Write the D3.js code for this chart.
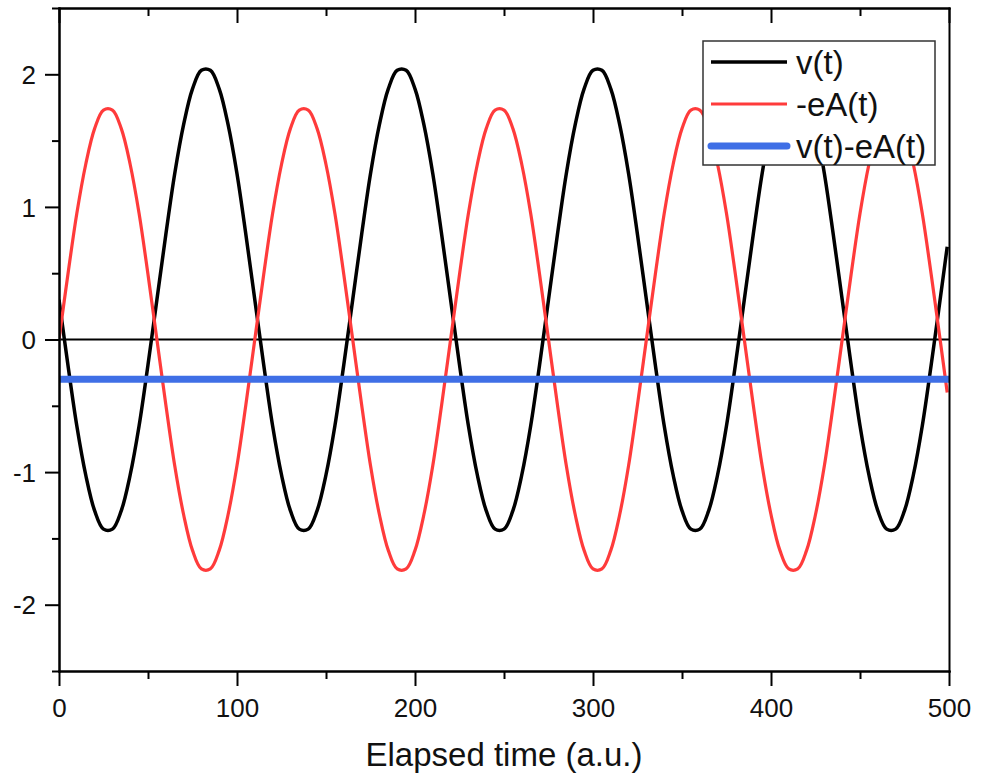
<!DOCTYPE html>
<html>
<head>
<meta charset="utf-8">
<script src="https://cdn.jsdelivr.net/npm/d3@7"></script>
<style>
  html, body { margin: 0; padding: 0; background: #fff; }
  svg { display: block; font-family: "Liberation Sans", Arial, sans-serif; }
</style>
</head>
<body>
<svg id="chart" width="983" height="775"></svg>
<script>
// ---- data ----
const timeValues = [0,5,10,15,20,25,30,35,40,45,50,55,60,65,70,75,80,85,90,95,
  100,105,110,115,120,125,130,135,140,145,150,155,160,165,170,175,180,185,190,195,
  200,205,210,215,220,225,230,235,240,245,250,255,260,265,270,275,280,285,290,295,
  300,305,310,315,320,325,330,335,340,345,350,355,360,365,370,375,380,385,390,395,
  400,405,410,415,420,425,430,435,440,445,450,455,460,465,470,475,480,485,490,495,499];

const vValues = [
  0.30,-0.19,-0.65,-1.02,-1.29,-1.43,-1.43,-1.29,-1.02,-0.65,-0.19,0.30,0.79,1.25,1.62,1.89,2.03,2.03,1.89,1.62,1.25,0.79,
  0.30,-0.19,-0.65,-1.02,-1.29,-1.43,-1.43,-1.29,-1.02,-0.65,-0.19,0.30,0.79,1.25,1.62,1.89,2.03,2.03,1.89,1.62,1.25,0.79,
  0.30,-0.19,-0.65,-1.02,-1.29,-1.43,-1.43,-1.29,-1.02,-0.65,-0.19,0.30,0.79,1.25,1.62,1.89,2.03,2.03,1.89,1.62,1.25,0.79,
  0.30,-0.19,-0.65,-1.02,-1.29,-1.43,-1.43,-1.29,-1.02,-0.65,-0.19,0.30,0.79,1.25,1.62,1.89,2.03,2.03,1.89,1.62,1.25,0.79,
  0.30,-0.19,-0.65,-1.02,-1.29,-1.43,-1.43,-1.29,-1.02,-0.65,-0.19,0.30,0.70];

const eAValues = [
  0,0.49,0.95,1.32,1.59,1.73,1.73,1.59,1.32,0.95,0.49,0,-0.49,-0.95,-1.32,-1.59,-1.73,-1.73,-1.59,-1.32,-0.95,-0.49,
  0,0.49,0.95,1.32,1.59,1.73,1.73,1.59,1.32,0.95,0.49,0,-0.49,-0.95,-1.32,-1.59,-1.73,-1.73,-1.59,-1.32,-0.95,-0.49,
  0,0.49,0.95,1.32,1.59,1.73,1.73,1.59,1.32,0.95,0.49,0,-0.49,-0.95,-1.32,-1.59,-1.73,-1.73,-1.59,-1.32,-0.95,-0.49,
  0,0.49,0.95,1.32,1.59,1.73,1.73,1.59,1.32,0.95,0.49,0,-0.49,-0.95,-1.32,-1.59,-1.73,-1.73,-1.59,-1.32,-0.95,-0.49,
  0,0.49,0.95,1.32,1.59,1.73,1.73,1.59,1.32,0.95,0.49,0,-0.40];

const sumTime = [0, 500];
const sumValues = [-0.3, -0.3];

const xTicksMajor = [0, 100, 200, 300, 400, 500];
const xTicksMinor = [50, 150, 250, 350, 450];
const yTicksMajor = [-2, -1, 0, 1, 2];
const yTicksMinor = [-2.5, -1.5, -0.5, 0.5, 1.5, 2.5];
const seriesNames = ["v(t)", "-eA(t)", "v(t)-eA(t)"];
const xTitle = "Elapsed time (a.u.)";

// ---- layout ----
const svg = d3.select("#chart");
const L = 59, R = 949, T = 8, B = 671;
const x = d3.scaleLinear().domain([0, 500]).range([L, R]);
const y = d3.scaleLinear().domain([-2.5, 2.5]).range([B, T]);

const colors = ["#000000", "#ff3b3b", "#3f6fe6"];
const widths = [3.5, 3.2, 7];

svg.append("clipPath").attr("id", "clip")
  .append("rect").attr("x", L).attr("y", T).attr("width", R - L).attr("height", B - T);

const plot = svg.append("g").attr("clip-path", "url(#clip)");

// zero reference line
plot.append("line")
  .attr("x1", x(0)).attr("x2", x(500))
  .attr("y1", y(0)).attr("y2", y(0))
  .attr("stroke", "#000").attr("stroke-width", 2);

const line = d3.line().x(d => x(d[0])).y(d => y(d[1])).curve(d3.curveCatmullRom.alpha(0.5));
const series = [
  timeValues.map((t, i) => [t, vValues[i]]),
  timeValues.map((t, i) => [t, eAValues[i]]),
  sumTime.map((t, i) => [t, sumValues[i]])
];
series.forEach((s, i) => {
  plot.append("path").datum(s)
    .attr("d", line)
    .attr("fill", "none")
    .attr("stroke", colors[i])
    .attr("stroke-width", widths[i])
    .attr("stroke-linejoin", "round");
});

// ---- axes ----
const fmt = d => String(d);
const axisStroke = 2;

// bottom
const gB = svg.append("g").attr("transform", `translate(0,${B})`)
  .call(d3.axisBottom(x).tickValues(xTicksMajor).tickFormat(fmt).tickSize(15).tickSizeOuter(0));
gB.append("g").call(d3.axisBottom(x).tickValues(xTicksMinor).tickFormat("").tickSize(8).tickSizeOuter(0));
// top (inward ticks)
const gT = svg.append("g").attr("transform", `translate(0,${T})`)
  .call(d3.axisBottom(x).tickValues(xTicksMajor).tickFormat("").tickSize(15).tickSizeOuter(0));
gT.append("g").call(d3.axisBottom(x).tickValues(xTicksMinor).tickFormat("").tickSize(8).tickSizeOuter(0));
// left
const gL = svg.append("g").attr("transform", `translate(${L},0)`)
  .call(d3.axisLeft(y).tickValues(yTicksMajor).tickFormat(fmt).tickSize(14).tickSizeOuter(0));
gL.append("g").call(d3.axisLeft(y).tickValues(yTicksMinor).tickFormat("").tickSize(7).tickSizeOuter(0));
// right (no ticks)
svg.append("g").attr("transform", `translate(${R},0)`)
  .call(d3.axisRight(y).tickValues([]).tickSizeOuter(0));

svg.selectAll(".domain").attr("stroke", "#000").attr("stroke-width", axisStroke).attr("stroke-linecap", "square");
svg.selectAll(".tick line").attr("stroke", "#000").attr("stroke-width", axisStroke);
svg.selectAll(".tick text").attr("fill", "#111").attr("font-size", 26)
  .attr("font-family", "'Liberation Sans', Arial, sans-serif");
gB.selectAll(".tick text").attr("y", 28).attr("dy", "0.71em");
gL.selectAll(".tick text").attr("x", -23).attr("dy", "0.35em");

// x title
svg.append("text")
  .attr("x", (L + R) / 2).attr("y", 766)
  .attr("text-anchor", "middle")
  .attr("font-size", 33).attr("fill", "#111")
  .text(xTitle);

// ---- legend ----
const lg = svg.append("g");
lg.append("rect").attr("x", 703).attr("y", 41).attr("width", 232).attr("height", 124)
  .attr("fill", "#fff").attr("stroke", "#333").attr("stroke-width", 1.5);
const rowY = [62, 104, 146];
seriesNames.forEach((name, i) => {
  lg.append("line").attr("x1", 711).attr("x2", 787).attr("y1", rowY[i]).attr("y2", rowY[i])
    .attr("stroke", colors[i]).attr("stroke-width", widths[i]).attr("stroke-linecap", i === 2 ? "round" : "butt");
  lg.append("text").attr("x", 796).attr("y", rowY[i]).attr("dy", "0.36em")
    .attr("font-size", 33).attr("fill", "#111").text(name);
});
</script>
</body>
</html>
